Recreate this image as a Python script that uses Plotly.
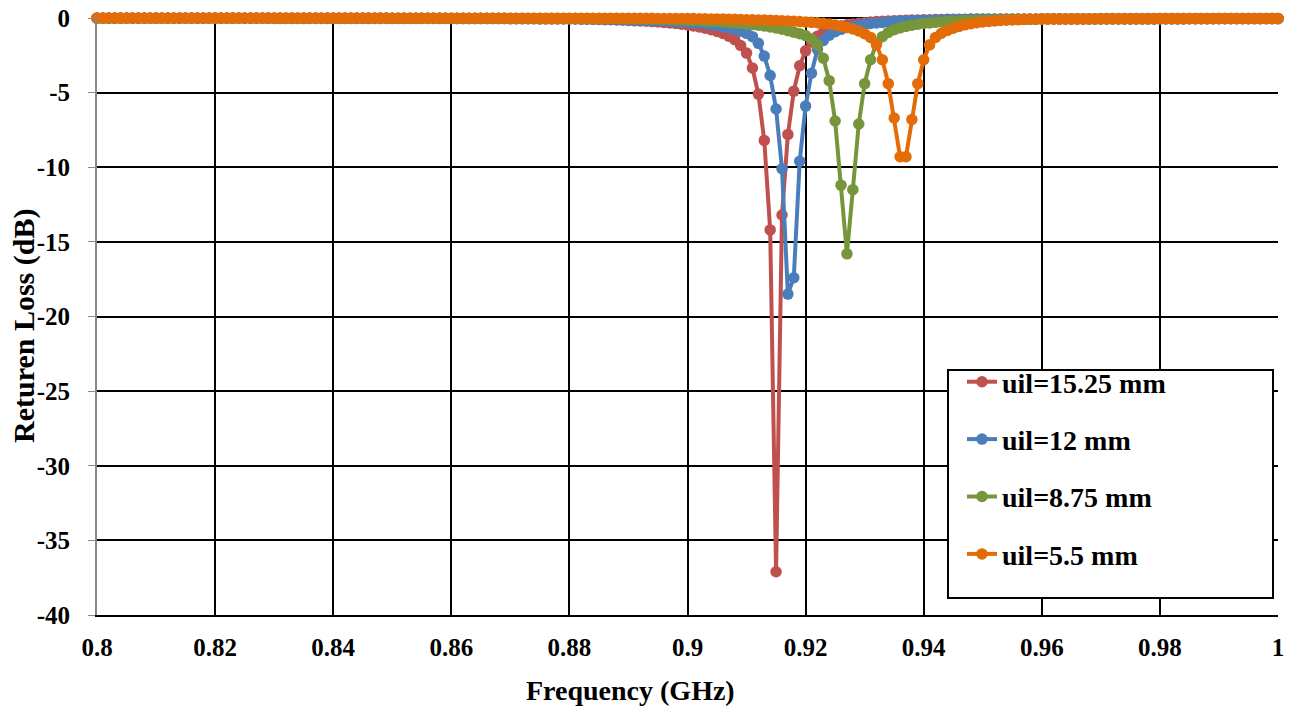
import plotly.graph_objects as go

freq = [round(0.8 + 0.001 * i, 3) for i in range(201)]

red_15_25 = [
    -0.02, -0.02, -0.02, -0.02, -0.02, -0.02, -0.02, -0.02, -0.02, -0.02,
    -0.02, -0.02, -0.02, -0.02, -0.02, -0.02, -0.02, -0.02, -0.02, -0.02,
    -0.02, -0.02, -0.02, -0.02, -0.02, -0.02, -0.02, -0.02, -0.02, -0.02,
    -0.03, -0.03, -0.03, -0.03, -0.03, -0.03, -0.03, -0.03, -0.03, -0.03,
    -0.03, -0.03, -0.03, -0.03, -0.03, -0.03, -0.03, -0.03, -0.03, -0.03,
    -0.03, -0.03, -0.03, -0.03, -0.03, -0.03, -0.03, -0.03, -0.03, -0.03,
    -0.04, -0.04, -0.04, -0.04, -0.04, -0.04, -0.04, -0.04, -0.04, -0.04,
    -0.05, -0.05, -0.05, -0.05, -0.05, -0.06, -0.06, -0.06, -0.06, -0.06,
    -0.07, -0.07, -0.08, -0.08, -0.09, -0.10, -0.11, -0.12, -0.13, -0.14,
    -0.16, -0.18, -0.20, -0.22, -0.24, -0.27, -0.30, -0.33, -0.37, -0.42,
    -0.47, -0.53, -0.60, -0.68, -0.78, -0.90, -1.04, -1.22, -1.46, -1.84,
    -2.35, -3.35, -5.1, -8.2, -14.2, -37.1, -13.2, -7.8, -4.9, -3.2,
    -2.2, -1.6, -1.22, -0.96, -0.78, -0.64, -0.54, -0.46, -0.40, -0.35,
    -0.31, -0.27, -0.24, -0.22, -0.20, -0.18, -0.16, -0.15, -0.14, -0.13,
    -0.12, -0.11, -0.10, -0.10, -0.09, -0.09, -0.08, -0.08, -0.07, -0.07,
    -0.06, -0.06, -0.06, -0.06, -0.06, -0.06, -0.06, -0.06, -0.06, -0.06,
    -0.05, -0.05, -0.05, -0.05, -0.05, -0.05, -0.05, -0.05, -0.05, -0.05,
    -0.04, -0.04, -0.04, -0.04, -0.04, -0.04, -0.04, -0.04, -0.04, -0.04,
    -0.04, -0.04, -0.04, -0.04, -0.04, -0.03, -0.03, -0.03, -0.03, -0.03,
    -0.03, -0.03, -0.03, -0.03, -0.03, -0.03, -0.03, -0.03, -0.03, -0.03,
    -0.03,
]

blue_12 = [
    -0.01, -0.01, -0.01, -0.01, -0.01, -0.01, -0.01, -0.01, -0.01, -0.01,
    -0.01, -0.01, -0.01, -0.01, -0.01, -0.01, -0.01, -0.01, -0.01, -0.01,
    -0.01, -0.01, -0.01, -0.01, -0.01, -0.01, -0.01, -0.01, -0.01, -0.01,
    -0.02, -0.02, -0.02, -0.02, -0.02, -0.02, -0.02, -0.02, -0.02, -0.02,
    -0.02, -0.02, -0.02, -0.02, -0.02, -0.02, -0.02, -0.02, -0.02, -0.02,
    -0.02, -0.02, -0.02, -0.02, -0.02, -0.02, -0.02, -0.02, -0.02, -0.02,
    -0.03, -0.03, -0.03, -0.03, -0.03, -0.03, -0.03, -0.03, -0.03, -0.03,
    -0.04, -0.04, -0.04, -0.04, -0.04, -0.04, -0.04, -0.04, -0.04, -0.04,
    -0.05, -0.05, -0.06, -0.06, -0.07, -0.07, -0.08, -0.09, -0.10, -0.11,
    -0.12, -0.13, -0.14, -0.15, -0.16, -0.18, -0.20, -0.22, -0.24, -0.26,
    -0.29, -0.32, -0.36, -0.40, -0.45, -0.51, -0.58, -0.66, -0.76, -0.88,
    -1.03, -1.25, -1.7, -2.55, -3.85, -6.1, -10.1, -18.5, -17.4, -9.6,
    -5.9, -3.7, -2.1, -1.5, -1.15, -0.92, -0.76, -0.64, -0.55, -0.48,
    -0.42, -0.37, -0.33, -0.30, -0.27, -0.24, -0.22, -0.20, -0.18, -0.17,
    -0.16, -0.15, -0.14, -0.13, -0.12, -0.11, -0.10, -0.10, -0.09, -0.09,
    -0.08, -0.08, -0.08, -0.08, -0.08, -0.08, -0.08, -0.08, -0.08, -0.08,
    -0.07, -0.07, -0.07, -0.07, -0.07, -0.07, -0.07, -0.07, -0.07, -0.07,
    -0.06, -0.06, -0.06, -0.06, -0.06, -0.06, -0.06, -0.06, -0.06, -0.06,
    -0.06, -0.06, -0.06, -0.06, -0.06, -0.05, -0.05, -0.05, -0.05, -0.05,
    -0.05, -0.05, -0.05, -0.05, -0.05, -0.05, -0.05, -0.05, -0.05, -0.05,
    -0.05,
]

green_8_75 = [
    -0.01, -0.01, -0.01, -0.01, -0.01, -0.01, -0.01, -0.01, -0.01, -0.01,
    -0.01, -0.01, -0.01, -0.01, -0.01, -0.01, -0.01, -0.01, -0.01, -0.01,
    -0.01, -0.01, -0.01, -0.01, -0.01, -0.01, -0.01, -0.01, -0.01, -0.01,
    -0.01, -0.01, -0.01, -0.01, -0.01, -0.01, -0.01, -0.01, -0.01, -0.01,
    -0.02, -0.02, -0.02, -0.02, -0.02, -0.02, -0.02, -0.02, -0.02, -0.02,
    -0.02, -0.02, -0.02, -0.02, -0.02, -0.02, -0.02, -0.02, -0.02, -0.02,
    -0.02, -0.02, -0.02, -0.02, -0.02, -0.02, -0.02, -0.02, -0.02, -0.02,
    -0.03, -0.03, -0.03, -0.03, -0.03, -0.03, -0.03, -0.03, -0.03, -0.03,
    -0.04, -0.04, -0.04, -0.04, -0.04, -0.05, -0.05, -0.05, -0.05, -0.05,
    -0.06, -0.06, -0.07, -0.07, -0.08, -0.08, -0.09, -0.10, -0.11, -0.12,
    -0.15, -0.16, -0.17, -0.19, -0.21, -0.23, -0.26, -0.29, -0.32, -0.36,
    -0.40, -0.44, -0.48, -0.53, -0.60, -0.67, -0.75, -0.85, -0.95, -1.05,
    -1.18, -1.4, -1.8, -2.7, -4.2, -6.9, -11.2, -15.8, -11.5, -7.1,
    -4.4, -2.8, -1.7, -1.25, -0.97, -0.79, -0.66, -0.56, -0.48, -0.42,
    -0.37, -0.33, -0.29, -0.26, -0.23, -0.21, -0.19, -0.17, -0.16, -0.15,
    -0.14, -0.13, -0.12, -0.11, -0.10, -0.10, -0.09, -0.09, -0.08, -0.08,
    -0.07, -0.07, -0.07, -0.07, -0.07, -0.07, -0.07, -0.07, -0.07, -0.07,
    -0.06, -0.06, -0.06, -0.06, -0.06, -0.06, -0.06, -0.06, -0.06, -0.06,
    -0.05, -0.05, -0.05, -0.05, -0.05, -0.05, -0.05, -0.05, -0.05, -0.05,
    -0.04, -0.04, -0.04, -0.04, -0.04, -0.04, -0.04, -0.04, -0.04, -0.04,
    -0.04,
]

orange_5_5 = [
    0.0, 0.0, 0.0, 0.0, 0.0, 0.0, 0.0, 0.0, 0.0, 0.0,
    0.0, 0.0, 0.0, 0.0, 0.0, 0.0, 0.0, 0.0, 0.0, 0.0,
    0.0, 0.0, 0.0, 0.0, 0.0, 0.0, 0.0, 0.0, 0.0, 0.0,
    0.0, 0.0, 0.0, 0.0, 0.0, 0.0, 0.0, 0.0, 0.0, 0.0,
    0.0, 0.0, 0.0, 0.0, 0.0, 0.0, 0.0, 0.0, 0.0, 0.0,
    -0.01, -0.01, -0.01, -0.01, -0.01, -0.01, -0.01, -0.01, -0.01, -0.01,
    -0.01, -0.01, -0.01, -0.01, -0.01, -0.01, -0.01, -0.01, -0.01, -0.01,
    -0.01, -0.01, -0.01, -0.01, -0.01, -0.01, -0.01, -0.01, -0.01, -0.01,
    -0.01, -0.01, -0.01, -0.01, -0.01, -0.01, -0.01, -0.01, -0.01, -0.01,
    -0.02, -0.02, -0.02, -0.02, -0.02, -0.03, -0.03, -0.03, -0.03, -0.03,
    -0.04, -0.04, -0.05, -0.05, -0.06, -0.06, -0.07, -0.08, -0.09, -0.10,
    -0.11, -0.12, -0.13, -0.14, -0.15, -0.16, -0.18, -0.20, -0.22, -0.24,
    -0.26, -0.29, -0.32, -0.36, -0.41, -0.47, -0.54, -0.63, -0.74, -0.87,
    -1.05, -1.3, -1.8, -2.8, -4.4, -6.7, -9.3, -9.3, -6.8, -4.4,
    -2.8, -1.8, -1.3, -1.02, -0.83, -0.68, -0.56, -0.46, -0.38, -0.32,
    -0.27, -0.23, -0.20, -0.17, -0.15, -0.13, -0.11, -0.10, -0.09, -0.08,
    -0.07, -0.07, -0.07, -0.07, -0.07, -0.06, -0.06, -0.06, -0.06, -0.06,
    -0.05, -0.05, -0.05, -0.05, -0.05, -0.05, -0.05, -0.05, -0.05, -0.05,
    -0.04, -0.04, -0.04, -0.04, -0.04, -0.04, -0.04, -0.04, -0.04, -0.04,
    -0.03, -0.03, -0.03, -0.03, -0.03, -0.03, -0.03, -0.03, -0.03, -0.03,
    -0.03,
]

series_names = ["uil=15.25 mm", "uil=12 mm", "uil=8.75 mm", "uil=5.5 mm"]
series_values = [red_15_25, blue_12, green_8_75, orange_5_5]
series_colors = ["#C0504D", "#4A7EBB", "#77963C", "#E36C09"]

x_tick_vals = [0.8, 0.82, 0.84, 0.86, 0.88, 0.9, 0.92, 0.94, 0.96, 0.98, 1.0]
x_tick_text = ["0.8", "0.82", "0.84", "0.86", "0.88", "0.9", "0.92", "0.94", "0.96", "0.98", "1"]
y_tick_vals = [0, -5, -10, -15, -20, -25, -30, -35, -40]
y_tick_text = ["0", "-5", "-10", "-15", "-20", "-25", "-30", "-35", "-40"]

x_title = "Frequency (GHz)"
y_title = "Returen Loss (dB)"

FONT = "Liberation Serif"

fig = go.Figure()
for name, vals, col in zip(series_names, series_values, series_colors):
    fig.add_trace(go.Scatter(
        x=freq, y=vals, name=name, mode="lines+markers",
        line=dict(color=col, width=4),
        marker=dict(color=col, size=11.5),
        cliponaxis=False, legendgroup=name,
    ))

W, H = 1293, 707
L, R, T, B = 97, 15, 18, 92
pw, ph = W - L - R, H - T - B

def px_to_paper_x(px):
    return (px - L) / pw

def px_to_paper_y(py):
    return (H - B - py) / ph

fig.add_shape(type="rect", xref="paper", yref="paper",
              x0=px_to_paper_x(948), x1=px_to_paper_x(1273),
              y0=px_to_paper_y(598), y1=px_to_paper_y(370),
              line=dict(color="black", width=2), fillcolor="white", layer="above")

fig.add_annotation(text=x_title, xref="paper", yref="paper",
                   x=px_to_paper_x(630), y=px_to_paper_y(690),
                   xanchor="center", yanchor="middle", showarrow=False,
                   font=dict(family=FONT, size=28, color="black", weight="bold"))
fig.add_annotation(text=y_title, xref="paper", yref="paper",
                   x=px_to_paper_x(24), y=px_to_paper_y(326), textangle=-90,
                   xanchor="center", yanchor="middle", showarrow=False,
                   font=dict(family=FONT, size=30, color="black", weight="bold"))

fig.update_layout(
    width=W, height=H,
    margin=dict(l=L, r=R, t=T, b=B, autoexpand=False),
    paper_bgcolor="white", plot_bgcolor="white",
    font=dict(family=FONT, size=25, color="black"),
    showlegend=True,
    legend=dict(
        x=px_to_paper_x(962), y=px_to_paper_y(357), xanchor="left", yanchor="top",
        bgcolor="rgba(0,0,0,0)", borderwidth=0,
        font=dict(family=FONT, size=28, color="black", weight="bold"),
        tracegroupgap=18, itemwidth=30,
    ),
    xaxis=dict(
        range=[0.8, 1.0], tickvals=x_tick_vals, ticktext=x_tick_text,
        showgrid=True, gridcolor="black", gridwidth=2,
        showline=True, linecolor="black", linewidth=2,
        ticks="", ticklabelstandoff=9, zeroline=False, automargin=False,
        tickfont=dict(family=FONT, size=25, color="black", weight="bold"),
    ),
    yaxis=dict(
        range=[-40, 0], tickvals=y_tick_vals, ticktext=y_tick_text,
        showgrid=True, gridcolor="black", gridwidth=2,
        showline=True, linecolor="#888888", linewidth=2,
        ticks="outside", ticklen=7, tickcolor="#888888", tickwidth=1,
        ticklabelstandoff=13, zeroline=True, zerolinecolor="black", zerolinewidth=2,
        automargin=False,
        tickfont=dict(family=FONT, size=25, color="black", weight="bold"),
    ),
)

fig.write_html("out.html")
